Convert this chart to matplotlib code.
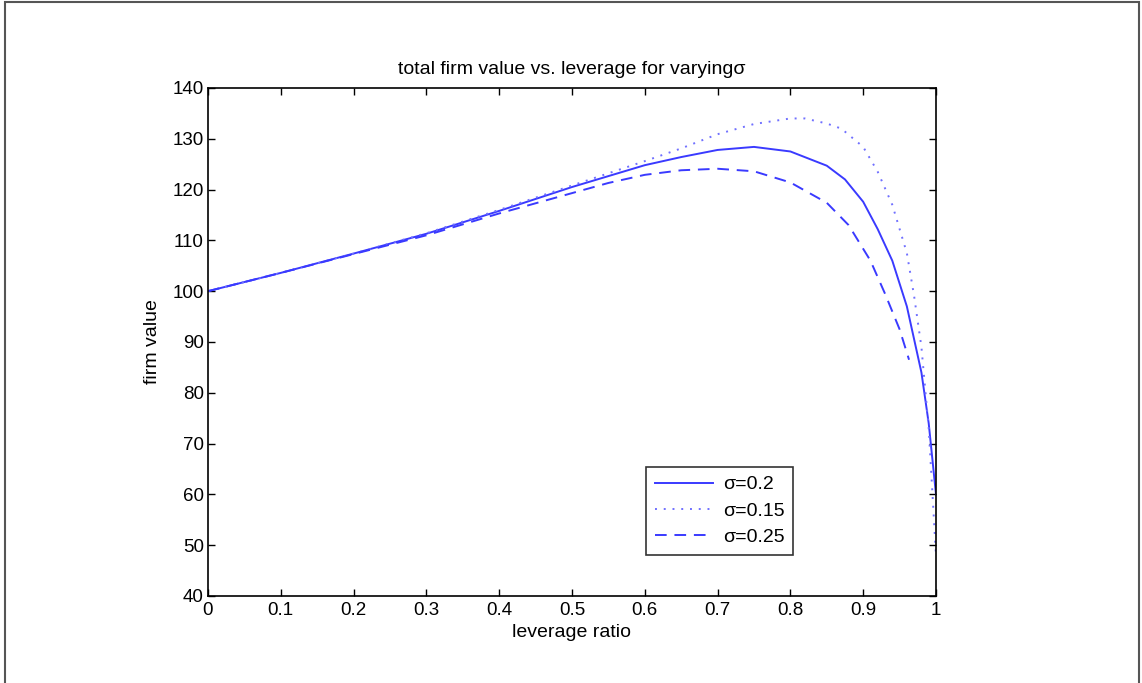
import numpy as np
import matplotlib
matplotlib.use('Agg')
import matplotlib.pyplot as plt
from matplotlib.patches import Rectangle

plt.rcParams['font.family'] = ['Liberation Sans', 'DejaVu Sans']

# sigma = 0.2 (solid)
lev_02 = [0, 0.1, 0.2, 0.3, 0.4, 0.5, 0.6, 0.65, 0.7, 0.75, 0.8, 0.85,
          0.875, 0.9, 0.92, 0.94, 0.96, 0.98, 0.99, 1.0]
val_02 = [100, 103.6, 107.4, 111.3, 115.8, 120.5, 124.8, 126.4, 127.8, 128.4,
          127.5, 124.7, 122.0, 117.6, 112.2, 106.0, 97.0, 84.0, 74.0, 60.0]

# sigma = 0.15 (dotted)
lev_015 = [0, 0.1, 0.2, 0.3, 0.4, 0.5, 0.55, 0.6, 0.65, 0.7, 0.75, 0.8, 0.82,
           0.85, 0.87, 0.9, 0.92, 0.94, 0.96, 0.97, 0.98, 0.99, 1.0]
val_015 = [100, 103.6, 107.4, 111.4, 116.0, 120.8, 123.2, 125.6, 128.1, 130.9,
           132.9, 134.0, 134.0, 133.0, 132.0, 128.4, 123.5, 117.0, 107.5, 99.0,
           89.0, 73.0, 48.0]

# sigma = 0.25 (dashed)
lev_025 = [0, 0.1, 0.2, 0.3, 0.4, 0.5, 0.55, 0.6, 0.65, 0.7, 0.75, 0.8, 0.85,
           0.88, 0.91, 0.93, 0.95, 0.963]
val_025 = [100, 103.6, 107.3, 111.0, 115.3, 119.3, 121.3, 122.9, 123.8, 124.1,
           123.6, 121.4, 117.4, 113.0, 106.0, 99.5, 92.5, 86.5]

fig = plt.figure(figsize=(11.42, 6.83), dpi=100)
ax = fig.add_axes([0.1821, 0.1274, 0.6375, 0.7438])

ax.plot(lev_02, val_02, '-', color='#3a3aff', lw=1.4, label='σ=0.2')
ax.plot(lev_015, val_015, ':', color='#7070ff', lw=1.4, dashes=(1, 3.5), label='σ=0.15')
ax.plot(lev_025, val_025, '--', color='#3a3aff', lw=1.4, dashes=(6, 4), label='σ=0.25')

ax.set_xlim(0, 1)
ax.set_ylim(40, 140)
ax.set_xticks(np.arange(0, 1.01, 0.1))
ax.set_xticklabels(['0', '0.1', '0.2', '0.3', '0.4', '0.5', '0.6', '0.7', '0.8', '0.9', '1'])
ax.set_yticks(np.arange(40, 141, 10))
ax.tick_params(direction='in', top=True, right=True, length=5, width=1,
               labelsize=13.5)
ax.tick_params(axis='x', pad=4)
ax.tick_params(axis='y', pad=3)
for s in ax.spines.values():
    s.set_linewidth(1.2)

ax.set_title('total firm value vs. leverage for varyingσ', fontsize=14, pad=10)
ax.set_xlabel('leverage ratio', fontsize=14, labelpad=4)
ax.set_ylabel('firm value', fontsize=14, labelpad=8)

leg = ax.legend(loc='lower left', bbox_to_anchor=(0.602, 0.081), fontsize=14,
                frameon=True, fancybox=False, borderaxespad=0,
                handlelength=3.0, handletextpad=0.5, labelspacing=0.45,
                borderpad=0.45)
leg.get_frame().set_edgecolor('black')
leg.get_frame().set_linewidth(1.2)

# page frame
fig.patches.append(Rectangle((5 / 1142, -0.05), 1134 / 1142, 1.05 - 2 / 683,
                             transform=fig.transFigure, fill=False,
                             edgecolor='#555555', lw=1.5))

fig.savefig('out.png', dpi=100)
